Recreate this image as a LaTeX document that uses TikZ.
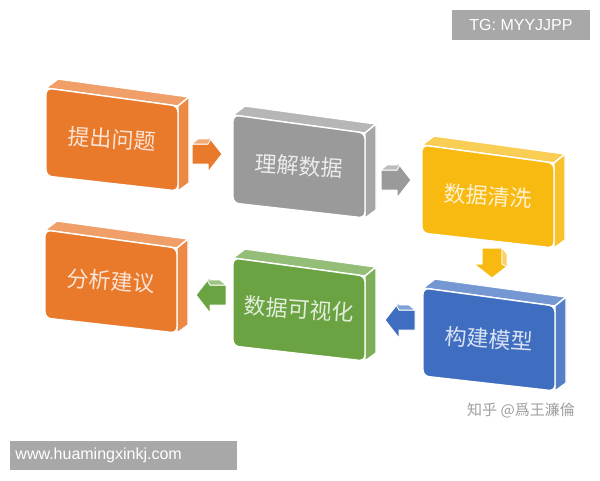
\documentclass[tikz,border=0pt]{standalone}
\usepackage{fontspec}
\setmainfont{Liberation Sans}
\newfontfamily\cjk{Noto Sans CJK SC}
\definecolor{cOrange}{HTML}{E97A2C}
\definecolor{cGray}{HTML}{9A9A9A}
\definecolor{cYellow}{HTML}{F8B911}
\definecolor{cGreen}{HTML}{6BA343}
\definecolor{cBlue}{HTML}{3F6EC0}
\definecolor{cMark}{HTML}{A8A8A8}
\tikzset{
  face/.style={draw=white, line width=1.4pt, line join=round},
  boxtext/.style={font=\cjk\fontsize{22}{22}\selectfont, rotate=-4, inner sep=0pt},
  markbox/.style={fill=cMark, text=white, font=\fontsize{16}{16}\selectfont, inner sep=0pt}
}
\newcommand\flowbox[5]{%
  \begin{scope}[shift={(#2,#3)}]
    \fill[face, fill=#4!72!white] (0,0) -- (12,-9) -- (143,9) -- (132,18) -- cycle;
    \fill[face, fill=#4!88!white] (132,18) -- (143,9) -- (143,95) -- (132,103) -- cycle;
    \fill[face, fill=#4, rounded corners=6pt] (0,0) -- (132,18) -- (132,103) -- (0,88) -- cycle;
    \node[boxtext, text=white!80!#4] (#1) at (66,51) {#5};
  \end{scope}}
\newcommand\flowarrow[5]{%
  \begin{scope}[shift={(#2,#3)}, #4]
    \coordinate (#1) at (0,0);
    \fill[face, line width=1pt, fill=#5] (-15,-10) -- (1,-10) -- (1,-18) -- (15,0) -- (1,18) -- (1,10) -- (-15,10) -- cycle;
    \fill[face, line width=0.8pt, fill=#5!65!white] (-15,-10) -- (-9,-15) -- (4,-15) -- (1,-10) -- cycle;
  \end{scope}}
\begin{document}
\begin{tikzpicture}[x=1pt,y=-1pt]
\useasboundingbox (0,0) rectangle (600,480);
\fill[white] (0,0) rectangle (600,480);
\flowbox{b1}{46}{88}{cOrange}{提出问题}
\flowbox{b2}{233}{115}{cGray}{理解数据}
\flowbox{b3}{422}{145}{cYellow}{数据清洗}
\flowbox{b4}{45}{230}{cOrange}{分析建议}
\flowbox{b5}{233}{258}{cGreen}{数据可视化}
\flowbox{b6}{423}{288}{cBlue}{构建模型}
\flowarrow{a1}{207}{154}{rotate=0}{cOrange}
\flowarrow{a2}{396}{180}{rotate=0}{cGray}
\flowarrow{a3}{492}{263}{rotate=-90}{cYellow}
\flowarrow{a4}{400}{320}{xscale=-1}{cBlue}
\flowarrow{a5}{211}{295}{xscale=-1}{cGreen}
\node[markbox, minimum width=138pt, minimum height=30pt] (tg) at (521,25) {TG: MYYJJPP};
\node[markbox, minimum width=227pt, minimum height=29pt, text width=215pt, align=left] (www) at (123,455) {www.huamingxinkj.com};
\node[font=\cjk\fontsize{15}{15}\selectfont, text=gray!75, inner sep=0pt] (zh) at (521,410) {知乎 @爲王濂倫};
\end{tikzpicture}
\end{document}
